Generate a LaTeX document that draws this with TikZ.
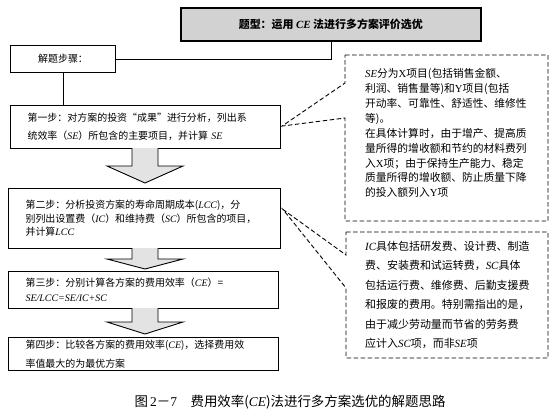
\documentclass[tikz,border=0pt]{standalone}
\usepackage{fontspec}
\setmainfont{Liberation Serif}
\newfontfamily\cjk{Noto Sans CJK SC}
\newcommand\lat[1]{{\rmfamily\itshape #1}}
\newcommand\latu[1]{{\rmfamily #1}}
\begin{document}
\begin{tikzpicture}[x=1bp,y=-1bp,
  stepbox/.style={draw,line width=1.1pt,anchor=north west,inner xsep=17bp,inner ysep=0pt,
    text width=236bp,align=left,minimum width=270bp},
  callout/.style={draw,line width=0.9pt,dash pattern=on 4.5bp off 2.5bp},
  calltext/.style={anchor=north west,inner sep=0pt,align=left},
  barrowstyle/.style={draw,line width=0.9pt,fill=gray!22},
  conn/.style={draw,line width=0.6pt}]
\useasboundingbox[fill=white] (0,0) rectangle (560,416);
% title
\node[draw,line width=1.6pt,fill=gray!35,minimum width=300bp,minimum height=33bp,anchor=north west,
  font=\cjk\fontsize{11}{13}\selectfont\bfseries] (title) at (180,7) {题型：运用 \lat{CE} 法进行多方案评价选优};
% steps header
\node[draw,line width=1.1pt,minimum width=105bp,minimum height=27bp,anchor=north west,
  font=\cjk\fontsize{10}{12}\selectfont] (steps) at (10,45) {解题步骤：};
% step boxes
\node[stepbox,minimum height=43bp,font=\cjk\fontsize{10}{18}\selectfont] (s1) at (10,105)
  {第一步：对方案的投资“成果”进行分析，列出系\\统效率（\lat{SE}）所包含的主要项目，并计算 \lat{SE}};
\node[stepbox,minimum height=60bp,minimum width=272bp,text width=238bp,font=\cjk\fontsize{10}{13.5}\selectfont] (s2) at (8,188)
  {第二步：分析投资方案的寿命周期成本(\lat{LCC})，分\\别列出设置费（\lat{IC}）和维持费（\lat{SC}）所包含的项目，\\并计算\lat{LCC}};
\node[stepbox,minimum height=37bp,font=\cjk\fontsize{10}{15}\selectfont] (s3) at (8,271)
  {第三步：分别计算各方案的费用效率（\lat{CE}）=\\\lat{SE/LCC=SE/IC+SC}};
\node[stepbox,minimum height=33bp,font=\cjk\fontsize{10}{19}\selectfont] (s4) at (8,337)
  {第四步：比较各方案的费用效率(\lat{CE})，选择费用效\\率值最大的为最优方案};
% connectors
\draw[conn] (title.south) |- (steps.east);
\draw[conn] (steps.south) -- (steps.south |- s1.north);
% block arrows
\newcommand\barrow[3]{\filldraw[barrowstyle] (132,#1) -- (132,#2) -- (107,#2) -- (145,#3) -- (183,#2) -- (158,#2) -- (158,#1);}
\barrow{148}{166}{183}
\barrow{248}{259}{269}
\barrow{308}{322}{334}
% callout 1
\coordinate (tip1) at ([xshift=1bp,yshift=1bp]s1.east);
\draw[callout] (345,55) -- (548,55) -- (548,221) -- (345,221) -- (345,118) -- (tip1) -- (345,83) -- cycle;
\node[calltext,font=\cjk\fontsize{10.8}{15}\selectfont] (c1) at (365,68)
  {\lat{SE}分为\latu{X}项目(包括销售金额、\\利润、销售量等)和\latu{Y}项目(包括\\开动率、可靠性、舒适性、维修性\\等)。\\在具体计算时，由于增产、提高质\\量所得的增收额和节约的材料费列\\入\latu{X}项；由于保持生产能力、稳定\\质量所得的增收额、防止质量下降\\的投入额列入\latu{Y}项};
% callout 2
\coordinate (tip2) at ([xshift=2bp,yshift=9bp]s2.east);
\draw[callout] (346,232) -- (548,232) -- (548,358) -- (346,358) -- (346,288) -- (tip2) -- (346,255) -- cycle;
\node[calltext,font=\cjk\fontsize{11}{19.5}\selectfont] (c2) at (365,241)
  {\lat{IC}具体包括研发费、设计费、制造\\费、安装费和试运转费，\lat{SC}具体\\包括运行费、维修费、后勤支援费\\和报废的费用。特别需指出的是，\\由于减少劳动量而节省的劳务费\\应计入\lat{SC}项，而非\lat{SE}项};
% caption
\node[font=\cjk\fontsize{13.5}{15}\selectfont] (cap) at (290,402) {图\,\latu{2}－\latu{7}\quad 费用效率(\lat{CE})法进行多方案选优的解题思路};
\end{tikzpicture}
\end{document}
